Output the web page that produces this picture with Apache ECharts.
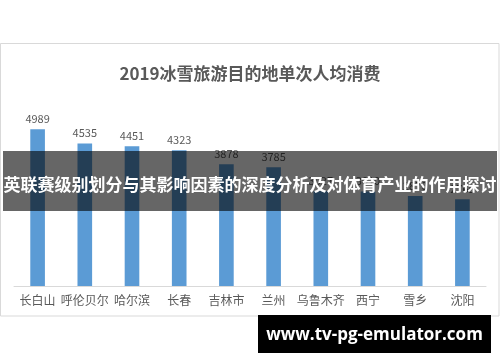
<!DOCTYPE html>
<html>
<head>
<meta charset="utf-8">
<script src="https://cdn.jsdelivr.net/npm/echarts@6/dist/echarts.min.js"></script>
<style>
html,body{margin:0;padding:0;background:#fff;}
#main{width:500px;height:362px;}
</style>
</head>
<body>
<div id="main"></div>
<script>
var titleText = '2019冰雪旅游目的地单次人均消费';
var categories = ['长白山','呼伦贝尔','哈尔滨','长春','吉林市','兰州','乌鲁木齐','西宁','雪乡','沈阳'];
var values = [4989,4535,4451,4323,3878,3785,3027,3010,2870,2765];
var bannerText = '英联赛级别划分与其影响因素的深度分析及对体育产业的作用探讨';
var siteText = 'www.tv-pg-emulator.com';

var chart = echarts.init(document.getElementById('main'), null, {renderer:'canvas'});
var cjk = '"Noto Sans CJK SC", "Noto Sans", sans-serif';
chart.setOption({
  animation:false,
  backgroundColor:'#ffffff',
  title:{
    text:titleText, left:'center', top:60,
    textStyle:{fontFamily:cjk, fontSize:17, fontWeight:'bold', color:'#595959'}
  },
  grid:{left:14, right:14, top:129, bottom:76},
  xAxis:{
    type:'category', data:categories,
    axisLine:{lineStyle:{color:'#d9d9d9', width:1}},
    axisTick:{show:false},
    axisLabel:{fontFamily:cjk, fontSize:12, color:'#595959', margin:8, interval:0}
  },
  yAxis:{type:'value', min:0, max:5000, show:false, splitLine:{show:false}},
  series:[{
    type:'bar', data:values, barWidth:'31%',
    itemStyle:{color:'#5b9bd5'},
    label:{show:true, position:'top', distance:5, fontFamily:cjk, fontSize:11, color:'#595959'}
  }],
  graphic:[
    {type:'rect', z:-1, shape:{x:0.5, y:43.5, width:498.5, height:272.5}, style:{fill:'#ffffff', stroke:'#d9d9d9', lineWidth:1}},
    {type:'rect', z:100, shape:{x:3, y:151, width:494, height:60}, style:{fill:'rgba(0,0,0,0.6)'}},
    {type:'text', z:101, x:250, y:185, style:{text:bannerText, fill:'#ffffff', fontSize:17, fontWeight:'bold', fontFamily:'Noto Sans CJK SC', align:'center', verticalAlign:'middle'}},
    {type:'rect', z:100, shape:{x:258, y:315, width:233, height:38}, style:{fill:'#000000'}},
    {type:'text', z:101, x:374.5, y:335, style:{text:siteText, fill:'#ffffff', fontSize:17, fontWeight:'bold', fontFamily:'Open Sans', align:'center', verticalAlign:'middle'}}
  ]
});
</script>
</body>
</html>
